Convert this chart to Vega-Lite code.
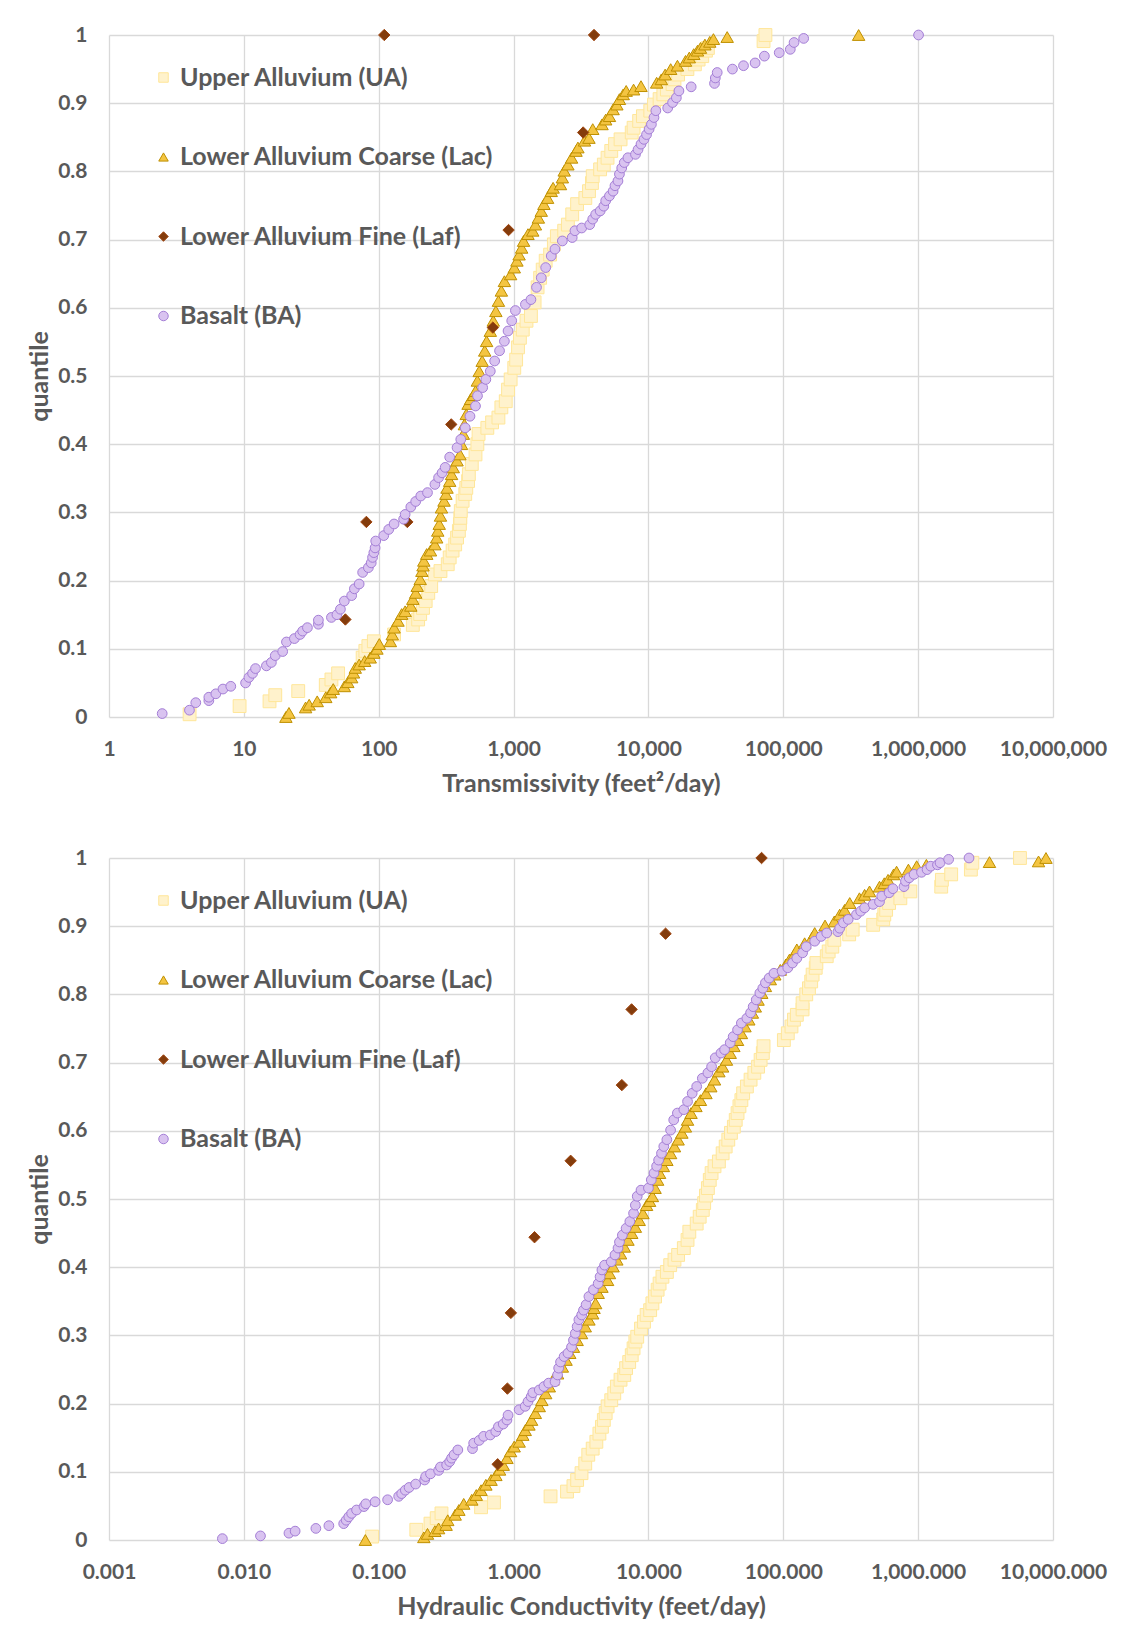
{
  "$schema": "https://vega.github.io/schema/vega-lite/v6.json",
  "background": "white",
  "padding": {"left": 27, "top": 24, "right": 5, "bottom": 5},
  "spacing": 51,
  "config": {
    "font": "Lato",
    "view": {"stroke": null},
    "axis": {
      "labelFont": "Lato", "labelFontWeight": "bold", "labelColor": "#595959", "labelFontSize": 21,
      "titleFont": "Lato", "titleFontWeight": "bold", "titleColor": "#595959", "titleFontSize": 25,
      "grid": true, "gridColor": "#D9D9D9", "gridWidth": 1.3, "domain": false, "ticks": false, "labelOverlap": false, "labelFlush": false
    },
    "axisX": {"labelPadding": 21, "titlePadding": 12},
    "axisY": {"labelPadding": 22, "titlePadding": 5}
  },
  "resolve": {"scale": {"fill": "independent", "stroke": "independent", "shape": "independent"}, "legend": {"fill": "independent", "stroke": "independent", "shape": "independent"}},
  "datasets": {
    "top": [
      {"s":"UA","x":3.96,"q":0.004},{"s":"UA","x":9.3,"q":0.016},{"s":"UA","x":15.5,"q":0.023},{"s":"UA","x":17.1,"q":0.032},{"s":"UA","x":25.3,"q":0.038},{"s":"UA","x":40.5,"q":0.047},{"s":"UA","x":44.6,"q":0.055},{"s":"UA","x":50,"q":0.064},{"s":"UA","x":76,"q":0.087},{"s":"UA","x":79.6,"q":0.097},{"s":"UA","x":83.8,"q":0.104},{"s":"UA","x":92,"q":0.111},{"s":"UA","x":130,"q":0.121},{"s":"UA","x":179,"q":0.135},{"s":"UA","x":196,"q":0.143},{"s":"UA","x":203,"q":0.151},{"s":"UA","x":213,"q":0.16},{"s":"UA","x":223,"q":0.17},{"s":"UA","x":233,"q":0.182},{"s":"UA","x":245,"q":0.192},{"s":"UA","x":261,"q":0.209},{"s":"UA","x":287,"q":0.214},{"s":"UA","x":325,"q":0.224},{"s":"UA","x":336,"q":0.234},{"s":"UA","x":353,"q":0.244},{"s":"UA","x":369,"q":0.253},{"s":"UA","x":381,"q":0.263},{"s":"UA","x":393,"q":0.273},{"s":"UA","x":400,"q":0.283},{"s":"UA","x":403,"q":0.292},{"s":"UA","x":406,"q":0.302},{"s":"UA","x":419,"q":0.317},{"s":"UA","x":438,"q":0.327},{"s":"UA","x":446,"q":0.336},{"s":"UA","x":460,"q":0.346},{"s":"UA","x":466,"q":0.356},{"s":"UA","x":490,"q":0.371},{"s":"UA","x":522,"q":0.385},{"s":"UA","x":539,"q":0.4},{"s":"UA","x":550,"q":0.415},{"s":"UA","x":639,"q":0.424},{"s":"UA","x":693,"q":0.432},{"s":"UA","x":772,"q":0.439},{"s":"UA","x":812,"q":0.454},{"s":"UA","x":875,"q":0.463},{"s":"UA","x":910,"q":0.48},{"s":"UA","x":951,"q":0.495},{"s":"UA","x":1012,"q":0.512},{"s":"UA","x":1045,"q":0.524},{"s":"UA","x":1079,"q":0.542},{"s":"UA","x":1114,"q":0.556},{"s":"UA","x":1170,"q":0.568},{"s":"UA","x":1247,"q":0.581},{"s":"UA","x":1345,"q":0.588},{"s":"UA","x":1432,"q":0.608},{"s":"UA","x":1507,"q":0.63},{"s":"UA","x":1574,"q":0.644},{"s":"UA","x":1644,"q":0.656},{"s":"UA","x":1730,"q":0.669},{"s":"UA","x":1866,"q":0.678},{"s":"UA","x":1990,"q":0.693},{"s":"UA","x":2094,"q":0.705},{"s":"UA","x":2373,"q":0.713},{"s":"UA","x":2528,"q":0.722},{"s":"UA","x":2722,"q":0.737},{"s":"UA","x":2958,"q":0.752},{"s":"UA","x":3404,"q":0.761},{"s":"UA","x":3625,"q":0.771},{"s":"UA","x":3812,"q":0.783},{"s":"UA","x":3862,"q":0.793},{"s":"UA","x":4383,"q":0.803},{"s":"UA","x":4669,"q":0.81},{"s":"UA","x":4975,"q":0.82},{"s":"UA","x":5300,"q":0.83},{"s":"UA","x":5654,"q":0.84},{"s":"UA","x":6214,"q":0.847},{"s":"UA","x":7517,"q":0.857},{"s":"UA","x":7762,"q":0.864},{"s":"UA","x":8532,"q":0.874},{"s":"UA","x":9098,"q":0.881},{"s":"UA","x":10320,"q":0.889},{"s":"UA","x":11000,"q":0.898},{"s":"UA","x":12100,"q":0.906},{"s":"UA","x":12900,"q":0.913},{"s":"UA","x":13700,"q":0.92},{"s":"UA","x":15100,"q":0.928},{"s":"UA","x":15600,"q":0.935},{"s":"UA","x":16600,"q":0.942},{"s":"UA","x":19450,"q":0.95},{"s":"UA","x":22100,"q":0.957},{"s":"UA","x":23550,"q":0.964},{"s":"UA","x":25070,"q":0.969},{"s":"UA","x":26700,"q":0.977},{"s":"UA","x":27600,"q":0.981},{"s":"UA","x":71400,"q":0.991},{"s":"UA","x":73700,"q":1.0},
      {"s":"Lac","x":20.5,"q":0},{"s":"Lac","x":21.6,"q":0.006},{"s":"Lac","x":28.7,"q":0.014},{"s":"Lac","x":30.5,"q":0.018},{"s":"Lac","x":35,"q":0.023},{"s":"Lac","x":40.5,"q":0.029},{"s":"Lac","x":44,"q":0.036},{"s":"Lac","x":46,"q":0.041},{"s":"Lac","x":55.6,"q":0.045},{"s":"Lac","x":59,"q":0.051},{"s":"Lac","x":63,"q":0.058},{"s":"Lac","x":65,"q":0.065},{"s":"Lac","x":67,"q":0.072},{"s":"Lac","x":71.6,"q":0.077},{"s":"Lac","x":78.7,"q":0.082},{"s":"Lac","x":86.5,"q":0.087},{"s":"Lac","x":92,"q":0.094},{"s":"Lac","x":97,"q":0.1},{"s":"Lac","x":101,"q":0.107},{"s":"Lac","x":122,"q":0.111},{"s":"Lac","x":126,"q":0.121},{"s":"Lac","x":130,"q":0.131},{"s":"Lac","x":139,"q":0.141},{"s":"Lac","x":148,"q":0.151},{"s":"Lac","x":157,"q":0.155},{"s":"Lac","x":173,"q":0.163},{"s":"Lac","x":179,"q":0.173},{"s":"Lac","x":188,"q":0.182},{"s":"Lac","x":193,"q":0.192},{"s":"Lac","x":203,"q":0.202},{"s":"Lac","x":209,"q":0.214},{"s":"Lac","x":213,"q":0.222},{"s":"Lac","x":216,"q":0.229},{"s":"Lac","x":227,"q":0.239},{"s":"Lac","x":242,"q":0.244},{"s":"Lac","x":261,"q":0.253},{"s":"Lac","x":269,"q":0.263},{"s":"Lac","x":274,"q":0.273},{"s":"Lac","x":281,"q":0.283},{"s":"Lac","x":287,"q":0.295},{"s":"Lac","x":292,"q":0.307},{"s":"Lac","x":305,"q":0.317},{"s":"Lac","x":315,"q":0.327},{"s":"Lac","x":321,"q":0.336},{"s":"Lac","x":336,"q":0.346},{"s":"Lac","x":347,"q":0.356},{"s":"Lac","x":357,"q":0.366},{"s":"Lac","x":381,"q":0.376},{"s":"Lac","x":400,"q":0.385},{"s":"Lac","x":411,"q":0.4},{"s":"Lac","x":424,"q":0.415},{"s":"Lac","x":432,"q":0.429},{"s":"Lac","x":446,"q":0.444},{"s":"Lac","x":460,"q":0.459},{"s":"Lac","x":480,"q":0.466},{"s":"Lac","x":506,"q":0.472},{"s":"Lac","x":522,"q":0.478},{"s":"Lac","x":539,"q":0.493},{"s":"Lac","x":556,"q":0.507},{"s":"Lac","x":585,"q":0.522},{"s":"Lac","x":611,"q":0.537},{"s":"Lac","x":631,"q":0.551},{"s":"Lac","x":672,"q":0.566},{"s":"Lac","x":707,"q":0.581},{"s":"Lac","x":739,"q":0.595},{"s":"Lac","x":772,"q":0.61},{"s":"Lac","x":812,"q":0.625},{"s":"Lac","x":855,"q":0.639},{"s":"Lac","x":951,"q":0.649},{"s":"Lac","x":1012,"q":0.659},{"s":"Lac","x":1059,"q":0.669},{"s":"Lac","x":1099,"q":0.678},{"s":"Lac","x":1148,"q":0.688},{"s":"Lac","x":1186,"q":0.698},{"s":"Lac","x":1279,"q":0.708},{"s":"Lac","x":1387,"q":0.713},{"s":"Lac","x":1452,"q":0.722},{"s":"Lac","x":1527,"q":0.732},{"s":"Lac","x":1604,"q":0.742},{"s":"Lac","x":1678,"q":0.752},{"s":"Lac","x":1787,"q":0.761},{"s":"Lac","x":1902,"q":0.771},{"s":"Lac","x":1964,"q":0.776},{"s":"Lac","x":2228,"q":0.781},{"s":"Lac","x":2300,"q":0.791},{"s":"Lac","x":2374,"q":0.801},{"s":"Lac","x":2528,"q":0.81},{"s":"Lac","x":2692,"q":0.82},{"s":"Lac","x":2904,"q":0.83},{"s":"Lac","x":3000,"q":0.835},{"s":"Lac","x":3357,"q":0.845},{"s":"Lac","x":3622,"q":0.849},{"s":"Lac","x":3864,"q":0.862},{"s":"Lac","x":4529,"q":0.869},{"s":"Lac","x":4819,"q":0.876},{"s":"Lac","x":5140,"q":0.881},{"s":"Lac","x":5470,"q":0.891},{"s":"Lac","x":5834,"q":0.898},{"s":"Lac","x":6095,"q":0.906},{"s":"Lac","x":6501,"q":0.913},{"s":"Lac","x":6839,"q":0.918},{"s":"Lac","x":7762,"q":0.92},{"s":"Lac","x":8810,"q":0.925},{"s":"Lac","x":11510,"q":0.93},{"s":"Lac","x":12470,"q":0.935},{"s":"Lac","x":13300,"q":0.942},{"s":"Lac","x":14620,"q":0.95},{"s":"Lac","x":16410,"q":0.955},{"s":"Lac","x":18840,"q":0.962},{"s":"Lac","x":20090,"q":0.967},{"s":"Lac","x":21680,"q":0.972},{"s":"Lac","x":23120,"q":0.977},{"s":"Lac","x":24320,"q":0.981},{"s":"Lac","x":26240,"q":0.986},{"s":"Lac","x":28510,"q":0.99},{"s":"Lac","x":30340,"q":0.994},{"s":"Lac","x":38370,"q":0.997},{"s":"Lac","x":362000,"q":1.0},
      {"s":"Laf","x":56.6,"q":0.143},{"s":"Laf","x":81,"q":0.286},{"s":"Laf","x":163,"q":0.286},{"s":"Laf","x":345,"q":0.429},{"s":"Laf","x":702,"q":0.571},{"s":"Laf","x":918,"q":0.714},{"s":"Laf","x":3280,"q":0.857},{"s":"Laf","x":110,"q":1.0},{"s":"Laf","x":3950,"q":1.0},
      {"s":"BA","x":2.48,"q":0.005},{"s":"BA","x":3.95,"q":0.01},{"s":"BA","x":4.4,"q":0.021},{"s":"BA","x":5.5,"q":0.024},{"s":"BA","x":5.5,"q":0.029},{"s":"BA","x":6.2,"q":0.034},{"s":"BA","x":7.0,"q":0.041},{"s":"BA","x":8.0,"q":0.045},{"s":"BA","x":10.3,"q":0.05},{"s":"BA","x":10.9,"q":0.058},{"s":"BA","x":11.6,"q":0.064},{"s":"BA","x":12.2,"q":0.071},{"s":"BA","x":14.7,"q":0.075},{"s":"BA","x":16,"q":0.08},{"s":"BA","x":17.1,"q":0.09},{"s":"BA","x":19.4,"q":0.096},{"s":"BA","x":20.7,"q":0.11},{"s":"BA","x":23.7,"q":0.115},{"s":"BA","x":26.1,"q":0.121},{"s":"BA","x":27.3,"q":0.126},{"s":"BA","x":29.6,"q":0.131},{"s":"BA","x":35.7,"q":0.136},{"s":"BA","x":35.7,"q":0.142},{"s":"BA","x":44.6,"q":0.146},{"s":"BA","x":49,"q":0.15},{"s":"BA","x":52,"q":0.158},{"s":"BA","x":55.6,"q":0.17},{"s":"BA","x":63,"q":0.178},{"s":"BA","x":66,"q":0.188},{"s":"BA","x":71.6,"q":0.195},{"s":"BA","x":76,"q":0.212},{"s":"BA","x":83.8,"q":0.219},{"s":"BA","x":88,"q":0.226},{"s":"BA","x":90,"q":0.234},{"s":"BA","x":92,"q":0.241},{"s":"BA","x":94,"q":0.248},{"s":"BA","x":95,"q":0.258},{"s":"BA","x":109,"q":0.266},{"s":"BA","x":118.6,"q":0.275},{"s":"BA","x":130,"q":0.283},{"s":"BA","x":153,"q":0.29},{"s":"BA","x":157,"q":0.297},{"s":"BA","x":173,"q":0.308},{"s":"BA","x":188,"q":0.316},{"s":"BA","x":205,"q":0.324},{"s":"BA","x":230,"q":0.329},{"s":"BA","x":261,"q":0.341},{"s":"BA","x":278,"q":0.351},{"s":"BA","x":295,"q":0.358},{"s":"BA","x":311,"q":0.366},{"s":"BA","x":336,"q":0.381},{"s":"BA","x":381,"q":0.395},{"s":"BA","x":406,"q":0.407},{"s":"BA","x":438,"q":0.424},{"s":"BA","x":475,"q":0.441},{"s":"BA","x":522,"q":0.456},{"s":"BA","x":540,"q":0.471},{"s":"BA","x":590,"q":0.483},{"s":"BA","x":623,"q":0.495},{"s":"BA","x":672,"q":0.507},{"s":"BA","x":724,"q":0.522},{"s":"BA","x":787,"q":0.537},{"s":"BA","x":855,"q":0.551},{"s":"BA","x":910,"q":0.566},{"s":"BA","x":969,"q":0.581},{"s":"BA","x":1032,"q":0.596},{"s":"BA","x":1224,"q":0.605},{"s":"BA","x":1345,"q":0.612},{"s":"BA","x":1479,"q":0.63},{"s":"BA","x":1604,"q":0.644},{"s":"BA","x":1730,"q":0.659},{"s":"BA","x":1902,"q":0.676},{"s":"BA","x":2027,"q":0.686},{"s":"BA","x":2300,"q":0.698},{"s":"BA","x":2722,"q":0.703},{"s":"BA","x":2851,"q":0.713},{"s":"BA","x":3200,"q":0.717},{"s":"BA","x":3672,"q":0.722},{"s":"BA","x":3864,"q":0.73},{"s":"BA","x":4064,"q":0.737},{"s":"BA","x":4385,"q":0.742},{"s":"BA","x":4667,"q":0.749},{"s":"BA","x":4819,"q":0.757},{"s":"BA","x":5140,"q":0.764},{"s":"BA","x":5470,"q":0.771},{"s":"BA","x":5649,"q":0.779},{"s":"BA","x":5943,"q":0.786},{"s":"BA","x":6095,"q":0.796},{"s":"BA","x":6339,"q":0.805},{"s":"BA","x":6622,"q":0.813},{"s":"BA","x":7047,"q":0.82},{"s":"BA","x":8017,"q":0.825},{"s":"BA","x":8375,"q":0.832},{"s":"BA","x":8810,"q":0.84},{"s":"BA","x":9268,"q":0.847},{"s":"BA","x":9683,"q":0.854},{"s":"BA","x":10116,"q":0.862},{"s":"BA","x":10520,"q":0.869},{"s":"BA","x":10990,"q":0.879},{"s":"BA","x":11350,"q":0.889},{"s":"BA","x":13900,"q":0.893},{"s":"BA","x":15100,"q":0.901},{"s":"BA","x":16110,"q":0.908},{"s":"BA","x":16830,"q":0.918},{"s":"BA","x":20750,"q":0.924},{"s":"BA","x":30900,"q":0.929},{"s":"BA","x":31330,"q":0.937},{"s":"BA","x":32360,"q":0.945},{"s":"BA","x":41980,"q":0.95},{"s":"BA","x":50700,"q":0.955},{"s":"BA","x":61800,"q":0.959},{"s":"BA","x":72440,"q":0.969},{"s":"BA","x":93300,"q":0.974},{"s":"BA","x":112700,"q":0.979},{"s":"BA","x":120200,"q":0.989},{"s":"BA","x":141600,"q":0.995},{"s":"BA","x":1007000,"q":1.0}
    ],
    "bot": [
      {"s":"UA","x":0.0894,"q":0.005},{"s":"UA","x":0.19,"q":0.015},{"s":"UA","x":0.242,"q":0.024},{"s":"UA","x":0.269,"q":0.032},{"s":"UA","x":0.292,"q":0.039},{"s":"UA","x":0.574,"q":0.048},{"s":"UA","x":0.716,"q":0.055},{"s":"UA","x":1.88,"q":0.064},{"s":"UA","x":2.49,"q":0.071},{"s":"UA","x":2.78,"q":0.079},{"s":"UA","x":2.96,"q":0.088},{"s":"UA","x":3.19,"q":0.098},{"s":"UA","x":3.4,"q":0.112},{"s":"UA","x":3.58,"q":0.125},{"s":"UA","x":3.86,"q":0.134},{"s":"UA","x":4.11,"q":0.144},{"s":"UA","x":4.33,"q":0.156},{"s":"UA","x":4.52,"q":0.166},{"s":"UA","x":4.67,"q":0.176},{"s":"UA","x":4.82,"q":0.186},{"s":"UA","x":4.98,"q":0.196},{"s":"UA","x":5.3,"q":0.205},{"s":"UA","x":5.58,"q":0.215},{"s":"UA","x":5.83,"q":0.225},{"s":"UA","x":6.21,"q":0.235},{"s":"UA","x":6.62,"q":0.242},{"s":"UA","x":6.83,"q":0.252},{"s":"UA","x":7.2,"q":0.261},{"s":"UA","x":7.52,"q":0.271},{"s":"UA","x":7.76,"q":0.281},{"s":"UA","x":8.0,"q":0.291},{"s":"UA","x":8.26,"q":0.298},{"s":"UA","x":8.81,"q":0.31},{"s":"UA","x":9.27,"q":0.32},{"s":"UA","x":9.69,"q":0.33},{"s":"UA","x":10.3,"q":0.337},{"s":"UA","x":10.7,"q":0.347},{"s":"UA","x":11.2,"q":0.357},{"s":"UA","x":11.7,"q":0.367},{"s":"UA","x":12.1,"q":0.376},{"s":"UA","x":12.7,"q":0.386},{"s":"UA","x":13.7,"q":0.393},{"s":"UA","x":14.5,"q":0.403},{"s":"UA","x":15.6,"q":0.411},{"s":"UA","x":16.6,"q":0.418},{"s":"UA","x":18.3,"q":0.428},{"s":"UA","x":19.5,"q":0.44},{"s":"UA","x":20.1,"q":0.452},{"s":"UA","x":22.8,"q":0.464},{"s":"UA","x":24,"q":0.474},{"s":"UA","x":25.3,"q":0.484},{"s":"UA","x":25.9,"q":0.494},{"s":"UA","x":26.7,"q":0.505},{"s":"UA","x":27.6,"q":0.516},{"s":"UA","x":28.5,"q":0.528},{"s":"UA","x":29.4,"q":0.538},{"s":"UA","x":30.9,"q":0.548},{"s":"UA","x":33.3,"q":0.555},{"s":"UA","x":35.5,"q":0.567},{"s":"UA","x":37.4,"q":0.577},{"s":"UA","x":39.1,"q":0.587},{"s":"UA","x":40.9,"q":0.597},{"s":"UA","x":43,"q":0.606},{"s":"UA","x":44.4,"q":0.616},{"s":"UA","x":45.8,"q":0.626},{"s":"UA","x":47.3,"q":0.636},{"s":"UA","x":48.9,"q":0.645},{"s":"UA","x":50.4,"q":0.655},{"s":"UA","x":53.7,"q":0.665},{"s":"UA","x":57.2,"q":0.675},{"s":"UA","x":61,"q":0.685},{"s":"UA","x":65,"q":0.694},{"s":"UA","x":67.9,"q":0.704},{"s":"UA","x":70.5,"q":0.714},{"s":"UA","x":71.4,"q":0.724},{"s":"UA","x":101,"q":0.733},{"s":"UA","x":108,"q":0.743},{"s":"UA","x":115,"q":0.753},{"s":"UA","x":120,"q":0.763},{"s":"UA","x":126,"q":0.77},{"s":"UA","x":139,"q":0.778},{"s":"UA","x":139,"q":0.787},{"s":"UA","x":148,"q":0.8},{"s":"UA","x":155,"q":0.809},{"s":"UA","x":161,"q":0.819},{"s":"UA","x":165,"q":0.829},{"s":"UA","x":174,"q":0.839},{"s":"UA","x":176,"q":0.846},{"s":"UA","x":210,"q":0.856},{"s":"UA","x":217,"q":0.863},{"s":"UA","x":231,"q":0.87},{"s":"UA","x":239,"q":0.88},{"s":"UA","x":308,"q":0.888},{"s":"UA","x":327,"q":0.895},{"s":"UA","x":464,"q":0.902},{"s":"UA","x":551,"q":0.91},{"s":"UA","x":561,"q":0.917},{"s":"UA","x":579,"q":0.924},{"s":"UA","x":609,"q":0.934},{"s":"UA","x":738,"q":0.941},{"s":"UA","x":875,"q":0.951},{"s":"UA","x":1483,"q":0.958},{"s":"UA","x":1500,"q":0.968},{"s":"UA","x":1758,"q":0.976},{"s":"UA","x":2461,"q":0.983},{"s":"UA","x":2523,"q":0.993},{"s":"UA","x":5690,"q":1.0},
      {"s":"Lac","x":0.0796,"q":0},{"s":"Lac","x":0.216,"q":0.004},{"s":"Lac","x":0.23,"q":0.009},{"s":"Lac","x":0.261,"q":0.013},{"s":"Lac","x":0.278,"q":0.017},{"s":"Lac","x":0.316,"q":0.022},{"s":"Lac","x":0.325,"q":0.029},{"s":"Lac","x":0.369,"q":0.037},{"s":"Lac","x":0.393,"q":0.044},{"s":"Lac","x":0.427,"q":0.053},{"s":"Lac","x":0.49,"q":0.059},{"s":"Lac","x":0.529,"q":0.066},{"s":"Lac","x":0.574,"q":0.073},{"s":"Lac","x":0.623,"q":0.081},{"s":"Lac","x":0.681,"q":0.088},{"s":"Lac","x":0.739,"q":0.095},{"s":"Lac","x":0.787,"q":0.103},{"s":"Lac","x":0.838,"q":0.11},{"s":"Lac","x":0.893,"q":0.12},{"s":"Lac","x":0.95,"q":0.13},{"s":"Lac","x":1.01,"q":0.137},{"s":"Lac","x":1.1,"q":0.144},{"s":"Lac","x":1.17,"q":0.154},{"s":"Lac","x":1.22,"q":0.161},{"s":"Lac","x":1.3,"q":0.169},{"s":"Lac","x":1.36,"q":0.176},{"s":"Lac","x":1.45,"q":0.186},{"s":"Lac","x":1.55,"q":0.196},{"s":"Lac","x":1.62,"q":0.205},{"s":"Lac","x":1.73,"q":0.215},{"s":"Lac","x":1.84,"q":0.225},{"s":"Lac","x":1.96,"q":0.235},{"s":"Lac","x":2.12,"q":0.244},{"s":"Lac","x":2.3,"q":0.254},{"s":"Lac","x":2.45,"q":0.264},{"s":"Lac","x":2.61,"q":0.274},{"s":"Lac","x":2.78,"q":0.283},{"s":"Lac","x":2.96,"q":0.293},{"s":"Lac","x":3.19,"q":0.303},{"s":"Lac","x":3.4,"q":0.313},{"s":"Lac","x":3.62,"q":0.323},{"s":"Lac","x":3.86,"q":0.332},{"s":"Lac","x":3.95,"q":0.34},{"s":"Lac","x":4.06,"q":0.347},{"s":"Lac","x":4.24,"q":0.362},{"s":"Lac","x":4.52,"q":0.371},{"s":"Lac","x":4.98,"q":0.381},{"s":"Lac","x":5.14,"q":0.391},{"s":"Lac","x":5.47,"q":0.401},{"s":"Lac","x":5.83,"q":0.411},{"s":"Lac","x":6.21,"q":0.42},{"s":"Lac","x":6.62,"q":0.43},{"s":"Lac","x":7.05,"q":0.44},{"s":"Lac","x":7.52,"q":0.45},{"s":"Lac","x":8.0,"q":0.459},{"s":"Lac","x":8.54,"q":0.469},{"s":"Lac","x":9.1,"q":0.479},{"s":"Lac","x":9.69,"q":0.491},{"s":"Lac","x":10.2,"q":0.497},{"s":"Lac","x":10.7,"q":0.504},{"s":"Lac","x":11.2,"q":0.516},{"s":"Lac","x":11.7,"q":0.528},{"s":"Lac","x":12.1,"q":0.538},{"s":"Lac","x":12.9,"q":0.548},{"s":"Lac","x":13.7,"q":0.557},{"s":"Lac","x":14.6,"q":0.567},{"s":"Lac","x":15.6,"q":0.577},{"s":"Lac","x":16.6,"q":0.587},{"s":"Lac","x":17.7,"q":0.597},{"s":"Lac","x":18.8,"q":0.606},{"s":"Lac","x":19.5,"q":0.616},{"s":"Lac","x":20.7,"q":0.626},{"s":"Lac","x":22.5,"q":0.636},{"s":"Lac","x":24.3,"q":0.645},{"s":"Lac","x":26.7,"q":0.655},{"s":"Lac","x":29,"q":0.665},{"s":"Lac","x":30.9,"q":0.675},{"s":"Lac","x":33.3,"q":0.687},{"s":"Lac","x":35.5,"q":0.694},{"s":"Lac","x":37.9,"q":0.704},{"s":"Lac","x":40.4,"q":0.714},{"s":"Lac","x":43,"q":0.724},{"s":"Lac","x":45.8,"q":0.733},{"s":"Lac","x":48.9,"q":0.743},{"s":"Lac","x":52,"q":0.753},{"s":"Lac","x":55.5,"q":0.763},{"s":"Lac","x":59,"q":0.773},{"s":"Lac","x":62,"q":0.782},{"s":"Lac","x":65,"q":0.792},{"s":"Lac","x":69.2,"q":0.802},{"s":"Lac","x":73.7,"q":0.812},{"s":"Lac","x":80.1,"q":0.822},{"s":"Lac","x":86.5,"q":0.829},{"s":"Lac","x":95,"q":0.836},{"s":"Lac","x":104.5,"q":0.844},{"s":"Lac","x":111,"q":0.851},{"s":"Lac","x":120,"q":0.858},{"s":"Lac","x":126,"q":0.866},{"s":"Lac","x":144,"q":0.875},{"s":"Lac","x":163,"q":0.883},{"s":"Lac","x":171,"q":0.89},{"s":"Lac","x":204,"q":0.901},{"s":"Lac","x":239,"q":0.907},{"s":"Lac","x":262,"q":0.917},{"s":"Lac","x":285,"q":0.924},{"s":"Lac","x":311,"q":0.934},{"s":"Lac","x":367,"q":0.941},{"s":"Lac","x":401,"q":0.946},{"s":"Lac","x":436,"q":0.951},{"s":"Lac","x":517,"q":0.958},{"s":"Lac","x":561,"q":0.963},{"s":"Lac","x":598,"q":0.968},{"s":"Lac","x":658,"q":0.976},{"s":"Lac","x":692,"q":0.98},{"s":"Lac","x":847,"q":0.983},{"s":"Lac","x":975,"q":0.988},{"s":"Lac","x":1151,"q":0.99},{"s":"Lac","x":3380,"q":0.994},{"s":"Lac","x":7810,"q":0.995},{"s":"Lac","x":8870,"q":1.0},
      {"s":"Laf","x":0.762,"q":0.111},{"s":"Laf","x":0.9,"q":0.222},{"s":"Laf","x":0.955,"q":0.333},{"s":"Laf","x":1.43,"q":0.444},{"s":"Laf","x":2.65,"q":0.556},{"s":"Laf","x":6.35,"q":0.667},{"s":"Laf","x":7.5,"q":0.778},{"s":"Laf","x":13.4,"q":0.889},{"s":"Laf","x":69,"q":1.0},
      {"s":"BA","x":0.00693,"q":0.002},{"s":"BA","x":0.01328,"q":0.006},{"s":"BA","x":0.0216,"q":0.01},{"s":"BA","x":0.024,"q":0.013},{"s":"BA","x":0.0342,"q":0.017},{"s":"BA","x":0.0427,"q":0.021},{"s":"BA","x":0.055,"q":0.024},{"s":"BA","x":0.0574,"q":0.029},{"s":"BA","x":0.06,"q":0.034},{"s":"BA","x":0.063,"q":0.039},{"s":"BA","x":0.0685,"q":0.044},{"s":"BA","x":0.0777,"q":0.049},{"s":"BA","x":0.0802,"q":0.053},{"s":"BA","x":0.094,"q":0.056},{"s":"BA","x":0.1164,"q":0.059},{"s":"BA","x":0.1406,"q":0.064},{"s":"BA","x":0.148,"q":0.068},{"s":"BA","x":0.1575,"q":0.073},{"s":"BA","x":0.168,"q":0.077},{"s":"BA","x":0.188,"q":0.082},{"s":"BA","x":0.219,"q":0.088},{"s":"BA","x":0.223,"q":0.093},{"s":"BA","x":0.242,"q":0.097},{"s":"BA","x":0.278,"q":0.102},{"s":"BA","x":0.287,"q":0.107},{"s":"BA","x":0.319,"q":0.11},{"s":"BA","x":0.336,"q":0.115},{"s":"BA","x":0.347,"q":0.12},{"s":"BA","x":0.362,"q":0.125},{"s":"BA","x":0.386,"q":0.132},{"s":"BA","x":0.496,"q":0.134},{"s":"BA","x":0.506,"q":0.142},{"s":"BA","x":0.556,"q":0.146},{"s":"BA","x":0.6,"q":0.152},{"s":"BA","x":0.672,"q":0.154},{"s":"BA","x":0.738,"q":0.159},{"s":"BA","x":0.772,"q":0.166},{"s":"BA","x":0.838,"q":0.17},{"s":"BA","x":0.893,"q":0.176},{"s":"BA","x":0.91,"q":0.183},{"s":"BA","x":1.1,"q":0.191},{"s":"BA","x":1.22,"q":0.196},{"s":"BA","x":1.28,"q":0.203},{"s":"BA","x":1.35,"q":0.21},{"s":"BA","x":1.39,"q":0.216},{"s":"BA","x":1.55,"q":0.22},{"s":"BA","x":1.68,"q":0.225},{"s":"BA","x":1.82,"q":0.23},{"s":"BA","x":2.03,"q":0.232},{"s":"BA","x":2.12,"q":0.242},{"s":"BA","x":2.16,"q":0.252},{"s":"BA","x":2.23,"q":0.261},{"s":"BA","x":2.37,"q":0.269},{"s":"BA","x":2.53,"q":0.274},{"s":"BA","x":2.69,"q":0.283},{"s":"BA","x":2.78,"q":0.293},{"s":"BA","x":2.87,"q":0.303},{"s":"BA","x":2.96,"q":0.313},{"s":"BA","x":3.05,"q":0.323},{"s":"BA","x":3.2,"q":0.33},{"s":"BA","x":3.3,"q":0.337},{"s":"BA","x":3.45,"q":0.345},{"s":"BA","x":3.62,"q":0.357},{"s":"BA","x":3.91,"q":0.367},{"s":"BA","x":4.24,"q":0.376},{"s":"BA","x":4.38,"q":0.386},{"s":"BA","x":4.52,"q":0.396},{"s":"BA","x":4.73,"q":0.403},{"s":"BA","x":5.3,"q":0.408},{"s":"BA","x":5.65,"q":0.418},{"s":"BA","x":5.95,"q":0.428},{"s":"BA","x":6.1,"q":0.437},{"s":"BA","x":6.41,"q":0.447},{"s":"BA","x":6.83,"q":0.457},{"s":"BA","x":7.28,"q":0.467},{"s":"BA","x":7.76,"q":0.479},{"s":"BA","x":8.0,"q":0.491},{"s":"BA","x":8.26,"q":0.504},{"s":"BA","x":8.81,"q":0.513},{"s":"BA","x":10,"q":0.516},{"s":"BA","x":10.5,"q":0.528},{"s":"BA","x":11,"q":0.538},{"s":"BA","x":11.5,"q":0.548},{"s":"BA","x":11.9,"q":0.557},{"s":"BA","x":12.5,"q":0.567},{"s":"BA","x":13.0,"q":0.577},{"s":"BA","x":13.7,"q":0.587},{"s":"BA","x":14.6,"q":0.601},{"s":"BA","x":15.4,"q":0.616},{"s":"BA","x":16.4,"q":0.626},{"s":"BA","x":18.3,"q":0.631},{"s":"BA","x":19.5,"q":0.643},{"s":"BA","x":21.1,"q":0.655},{"s":"BA","x":22.8,"q":0.665},{"s":"BA","x":25.1,"q":0.677},{"s":"BA","x":27.6,"q":0.685},{"s":"BA","x":29.4,"q":0.694},{"s":"BA","x":31.3,"q":0.707},{"s":"BA","x":34.5,"q":0.714},{"s":"BA","x":36.7,"q":0.719},{"s":"BA","x":40.4,"q":0.729},{"s":"BA","x":42.5,"q":0.738},{"s":"BA","x":45.8,"q":0.748},{"s":"BA","x":48.9,"q":0.758},{"s":"BA","x":53.7,"q":0.765},{"s":"BA","x":57.2,"q":0.773},{"s":"BA","x":59.8,"q":0.782},{"s":"BA","x":63,"q":0.792},{"s":"BA","x":67,"q":0.802},{"s":"BA","x":70.5,"q":0.809},{"s":"BA","x":73.7,"q":0.817},{"s":"BA","x":78.6,"q":0.824},{"s":"BA","x":85.3,"q":0.831},{"s":"BA","x":98,"q":0.834},{"s":"BA","x":108,"q":0.839},{"s":"BA","x":117,"q":0.846},{"s":"BA","x":126,"q":0.853},{"s":"BA","x":139,"q":0.861},{"s":"BA","x":148,"q":0.87},{"s":"BA","x":171,"q":0.878},{"s":"BA","x":191,"q":0.885},{"s":"BA","x":210,"q":0.89},{"s":"BA","x":254,"q":0.892},{"s":"BA","x":262,"q":0.897},{"s":"BA","x":279,"q":0.905},{"s":"BA","x":303,"q":0.91},{"s":"BA","x":349,"q":0.917},{"s":"BA","x":375,"q":0.922},{"s":"BA","x":401,"q":0.927},{"s":"BA","x":464,"q":0.932},{"s":"BA","x":517,"q":0.936},{"s":"BA","x":537,"q":0.944},{"s":"BA","x":609,"q":0.949},{"s":"BA","x":650,"q":0.955},{"s":"BA","x":785,"q":0.958},{"s":"BA","x":805,"q":0.966},{"s":"BA","x":859,"q":0.971},{"s":"BA","x":933,"q":0.976},{"s":"BA","x":1059,"q":0.979},{"s":"BA","x":1165,"q":0.983},{"s":"BA","x":1241,"q":0.988},{"s":"BA","x":1391,"q":0.99},{"s":"BA","x":1454,"q":0.993},{"s":"BA","x":1683,"q":0.998},{"s":"BA","x":2384,"q":1.0}
    ]
  },
  "vconcat": [
    {
      "data": {"name": "top"},
      "width": 944, "height": 682,
      "encoding": {
        "x": {"field": "x", "type": "quantitative", "scale": {"type": "log", "domain": [1, 10000000], "nice": false},
              "axis": {"values": [1, 10, 100, 1000, 10000, 100000, 1000000, 10000000], "format": ",", "title": "Transmissivity (feet²/day)"}},
        "y": {"field": "q", "type": "quantitative", "scale": {"domain": [0, 1], "nice": false},
              "axis": {"values": [0, 0.1, 0.2, 0.3, 0.4, 0.5, 0.6, 0.7, 0.8, 0.9, 1], "format": ".1~f", "title": "quantile"}},
        "shape": {"field": "s", "type": "nominal", "title": null, "scale": {"domain": ["UA", "Lac", "Laf", "BA"], "range": ["square", "triangle-up", "diamond", "circle"]},
                  "legend": {"orient": "none", "legendX": 42, "legendY": 30, "direction": "vertical", "rowPadding": 53.5, "symbolSize": 90, "symbolStrokeWidth": 1, "labelFont": "Lato", "labelFontSize": 25, "labelFontWeight": "bold", "labelColor": "#595959", "labelOffset": 4, "labelLimit": 450, "labelExpr": "datum.label=='UA'?'Upper Alluvium (UA)':datum.label=='Lac'?'Lower Alluvium Coarse (Lac)':datum.label=='Laf'?'Lower Alluvium Fine (Laf)':'Basalt (BA)'"}},
        "fill": {"field": "s", "type": "nominal", "title": null, "scale": {"domain": ["UA", "Lac", "Laf", "BA"], "range": ["#FFF2CC", "#F4C542", "#843C0C", "#D9C3F0"]}},
        "stroke": {"field": "s", "type": "nominal", "title": null, "scale": {"domain": ["UA", "Lac", "Laf", "BA"], "range": ["#FFE699", "#BF9000", "#A0450F", "#A47ED6"]}}
      },
      "layer": [
        {"transform": [{"filter": "datum.s == 'UA'"}], "mark": {"type": "point", "filled": true, "opacity": 1, "strokeWidth": 1, "size": 165}},
        {"transform": [{"filter": "datum.s == 'Lac'"}], "mark": {"type": "point", "filled": true, "opacity": 1, "strokeWidth": 1, "size": 155}},
        {"transform": [{"filter": "datum.s == 'Laf'"}], "mark": {"type": "point", "filled": true, "opacity": 1, "strokeWidth": 1, "size": 130}},
        {"transform": [{"filter": "datum.s == 'BA'"}], "mark": {"type": "point", "filled": true, "opacity": 1, "strokeWidth": 1, "size": 95}}
      ]
    },
    {
      "data": {"name": "bot"},
      "width": 944, "height": 682,
      "encoding": {
        "x": {"field": "x", "type": "quantitative", "scale": {"type": "log", "domain": [0.001, 10000], "nice": false},
              "axis": {"values": [0.001, 0.01, 0.1, 1, 10, 100, 1000, 10000], "format": ",.3f", "title": "Hydraulic Conductivity (feet/day)"}},
        "y": {"field": "q", "type": "quantitative", "scale": {"domain": [0, 1], "nice": false},
              "axis": {"values": [0, 0.1, 0.2, 0.3, 0.4, 0.5, 0.6, 0.7, 0.8, 0.9, 1], "format": ".1~f", "title": "quantile"}},
        "shape": {"field": "s", "type": "nominal", "title": null, "scale": {"domain": ["UA", "Lac", "Laf", "BA"], "range": ["square", "triangle-up", "diamond", "circle"]},
                  "legend": {"orient": "none", "legendX": 42, "legendY": 30, "direction": "vertical", "rowPadding": 53.5, "symbolSize": 90, "symbolStrokeWidth": 1, "labelFont": "Lato", "labelFontSize": 25, "labelFontWeight": "bold", "labelColor": "#595959", "labelOffset": 4, "labelLimit": 450, "labelExpr": "datum.label=='UA'?'Upper Alluvium (UA)':datum.label=='Lac'?'Lower Alluvium Coarse (Lac)':datum.label=='Laf'?'Lower Alluvium Fine (Laf)':'Basalt (BA)'"}},
        "fill": {"field": "s", "type": "nominal", "title": null, "scale": {"domain": ["UA", "Lac", "Laf", "BA"], "range": ["#FFF2CC", "#F4C542", "#843C0C", "#D9C3F0"]}},
        "stroke": {"field": "s", "type": "nominal", "title": null, "scale": {"domain": ["UA", "Lac", "Laf", "BA"], "range": ["#FFE699", "#BF9000", "#A0450F", "#A47ED6"]}}
      },
      "layer": [
        {"transform": [{"filter": "datum.s == 'UA'"}], "mark": {"type": "point", "filled": true, "opacity": 1, "strokeWidth": 1, "size": 165}},
        {"transform": [{"filter": "datum.s == 'Lac'"}], "mark": {"type": "point", "filled": true, "opacity": 1, "strokeWidth": 1, "size": 155}},
        {"transform": [{"filter": "datum.s == 'Laf'"}], "mark": {"type": "point", "filled": true, "opacity": 1, "strokeWidth": 1, "size": 130}},
        {"transform": [{"filter": "datum.s == 'BA'"}], "mark": {"type": "point", "filled": true, "opacity": 1, "strokeWidth": 1, "size": 95}}
      ]
    }
  ]
}
